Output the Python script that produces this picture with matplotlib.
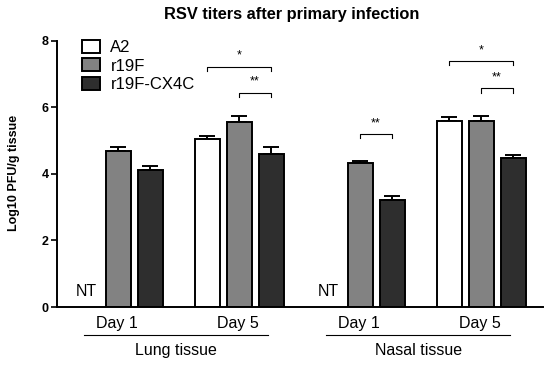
import matplotlib
matplotlib.use("Agg")
import matplotlib.pyplot as plt
import numpy as np

plt.rcParams['font.family'] = ['Liberation Sans', 'DejaVu Sans']

# data (Log10 PFU/g tissue), NaN = not tested
series = ["A2", "r19F", "r19F-CX4C"]
groups = ["Day 1", "Day 5", "Day 1", "Day 5"]
tissues = ["Lung tissue", "Nasal tissue"]
means = {
    "A2":        [np.nan, 5.03, np.nan, 5.57],
    "r19F":      [4.68, 5.54, 4.31, 5.57],
    "r19F-CX4C": [4.11, 4.59, 3.21, 4.48],
}
errs = {
    "A2":        [np.nan, 0.09, np.nan, 0.14],
    "r19F":      [0.11, 0.19, 0.06, 0.17],
    "r19F-CX4C": [0.12, 0.20, 0.12, 0.08],
}
colors = {"A2": "white", "r19F": "#828282", "r19F-CX4C": "#2e2e2e"}

# significance brackets: (group, series i, series j, height, label)
brackets = [
    (1, 0, 2, 7.21, "*"),
    (1, 1, 2, 6.43, "**"),
    (2, 1, 2, 5.19, "**"),
    (3, 0, 2, 7.38, "*"),
    (3, 1, 2, 6.56, "**"),
]

fig = plt.figure(figsize=(5.5, 3.66), dpi=100)
ax = fig.add_axes([57 / 550, 59 / 366, 486 / 550, 266.5 / 366])

spacing = 121 / 32
width = 25 / 32
centers = np.arange(len(groups)) * spacing

def xpos(g, i):
    return centers[g] + (i - 1)

for i, s in enumerate(series):
    x = centers + (i - 1)
    ax.bar(x, means[s], width=width, color=colors[s], edgecolor="black",
           linewidth=1.4, label=s, zorder=2)
    ax.errorbar(x, means[s], yerr=[np.zeros(len(x)), errs[s]], fmt="none",
                ecolor="black", elinewidth=1.4, capsize=6, capthick=1.4, zorder=1)

# NT labels
for g in (0, 2):
    ax.text(xpos(g, 0), 0.25, "NT", ha="center", va="bottom", fontsize=11.5)

for g, i, j, h, lab in brackets:
    x1, x2 = xpos(g, i), xpos(g, j)
    ax.plot([x1, x1, x2, x2], [h - 0.13, h, h, h - 0.13], color="black", lw=0.8)
    ax.text((x1 + x2) / 2, h + 0.15, lab, ha="center", va="bottom", fontsize=9)

ax.set_xlim(-61 / 32, 425 / 32)
ax.set_ylim(0, 8)
ax.set_yticks([0, 2, 4, 6, 8])
ax.tick_params(axis="y", direction="out", length=4, width=1.2, labelsize=9, pad=2)
for lab in ax.get_yticklabels():
    lab.set_fontweight("bold")
ax.set_xticks([])
ax.spines["top"].set_visible(False)
ax.spines["right"].set_visible(False)
ax.spines["left"].set_linewidth(1.4)
ax.spines["bottom"].set_linewidth(1.4)

# x group labels
tr = ax.get_xaxis_transform()
for g, name in enumerate(groups):
    ax.text(centers[g] - 0.05, -0.063, name, transform=tr, ha="center", va="center",
            fontsize=11.5)
for t, name in enumerate(tissues):
    xl = centers[2 * t] - 1.05
    xr = centers[2 * t + 1] + 0.92
    ax.plot([xl, xr], [-0.105, -0.105], transform=tr, color="black", lw=0.8,
            clip_on=False)
    ax.text((xl + xr) / 2, -0.163, name, transform=tr, ha="center", va="center",
            fontsize=11.5)

fig.text(14 / 550, 1 - 173 / 366, "Log10 PFU/g tissue", rotation=90, ha="center",
         va="center", fontsize=9, fontweight="bold")
fig.text(292 / 550, 1 - 15 / 366, "RSV titers after primary infection", ha="center",
         va="center", fontsize=11.8, fontweight="bold")

ax.legend(loc="upper left", bbox_to_anchor=(0.038, 1.027), frameon=False,
          fontsize=12, handlelength=1.1, handleheight=0.8, labelspacing=0.2,
          handletextpad=0.6, borderaxespad=0)

fig.savefig("out.png", dpi=100)
